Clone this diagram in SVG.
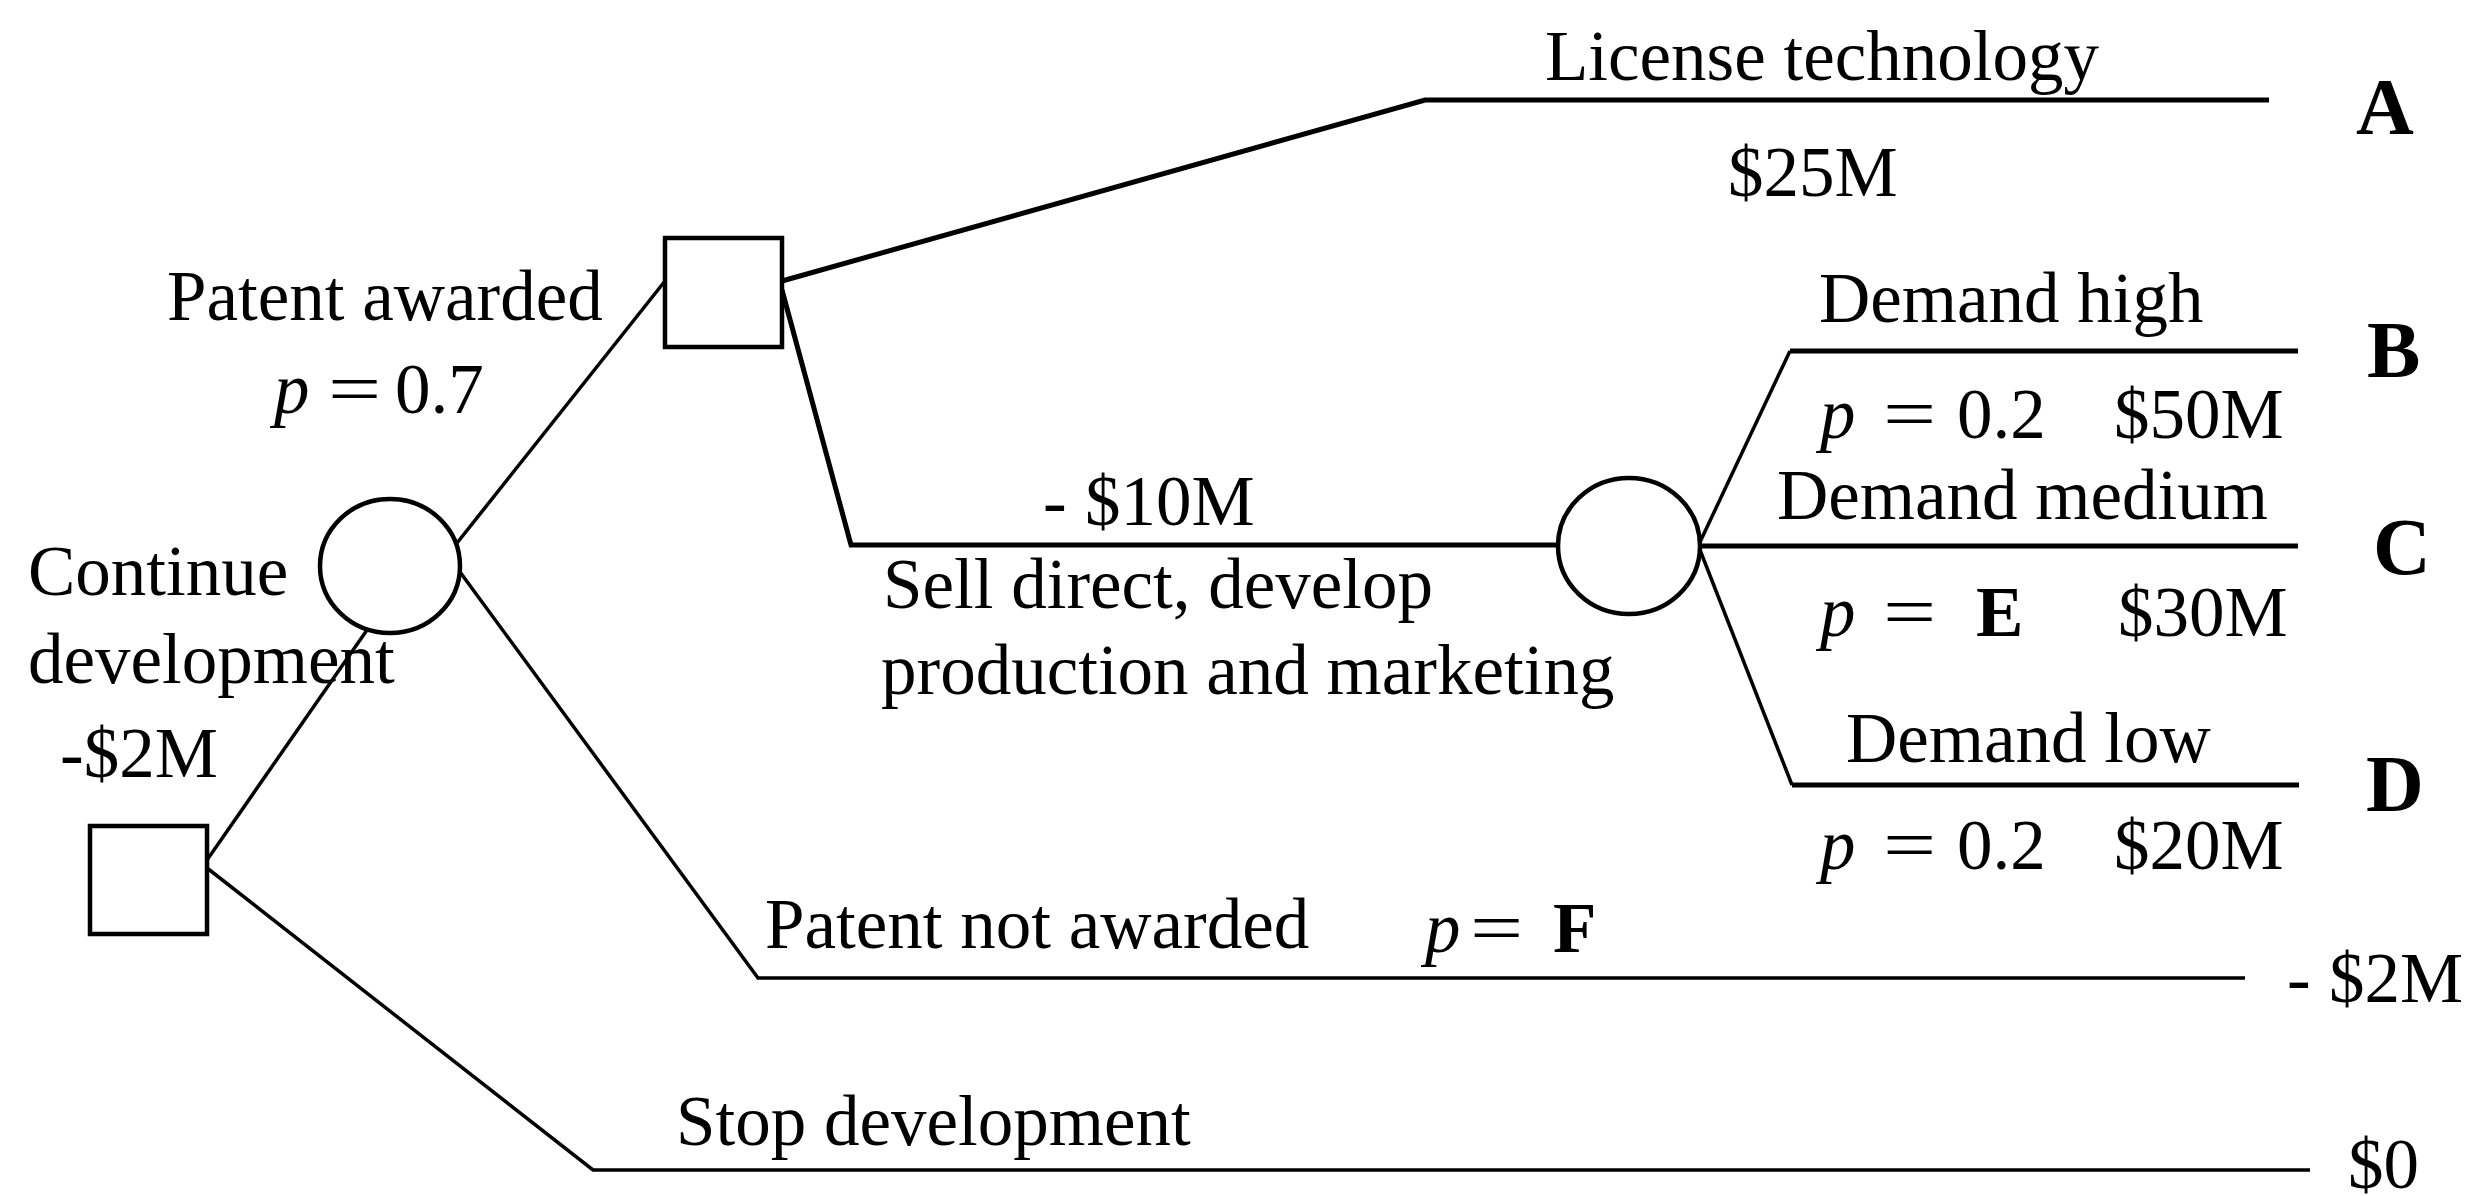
<svg xmlns="http://www.w3.org/2000/svg" width="2486" height="1196" viewBox="0 0 2486 1196">
<style>
  text { font-family: "Liberation Serif", "Times New Roman", serif; font-size: 71px; fill: #000; }
  .it { font-style: italic; }
  .b { font-weight: bold; }
  .leaf { font-weight: bold; font-size: 80px; }
  .node { fill: #fff; stroke: #000; stroke-width: 4.5; }
  .thick { fill: none; stroke: #000; stroke-width: 5; stroke-linejoin: miter; }
  .thin { fill: none; stroke: #000; stroke-width: 3.5; stroke-linejoin: miter; }
</style>
<rect width="2486" height="1196" fill="#fff"/>
<g id="connectors">
  <path class="thin" d="M207,860 L367,630"/>
  <path class="thin" d="M207,868 L593,1170 L2310,1170"/>
  <path class="thin" d="M457,543 L665,281"/>
  <path class="thin" d="M460,572 L758,978 L2245,978"/>
  <path class="thick" d="M782,281 L1425,100 L2269,100"/>
  <path class="thick" d="M782,290 L851,545 L1558,545"/>
  <path class="thin" d="M1700,542 L1790,351"/>
  <path class="thick" d="M1790,351 L2298,351"/>
  <path class="thick" d="M1700,546 L2298,546"/>
  <path class="thin" d="M1700,550 L1792,785"/>
  <path class="thick" d="M1792,785 L2299,785"/>
</g>
<g id="node-continue">
  <rect class="node" x="90" y="826" width="117" height="108"/>
  <text x="28" y="595">Continue</text>
  <text x="28" y="683">development</text>
  <text x="60" y="777">-$2M</text>
</g>
<g id="node-stop">
  <text x="676" y="1145">Stop development</text>
  <text x="2348" y="1188">$0</text>
</g>
<g id="node-patent">
  <ellipse class="node" cx="390" cy="566" rx="70" ry="67"/>
  <text x="167" y="320">Patent awarded</text>
  <text class="it" x="274" y="413">p</text>
  <text transform="translate(328,413) scale(1.33,1)">=</text>
  <text x="395" y="413">0.7</text>
</g>
<g id="node-not-awarded">
  <text x="765" y="948">Patent not awarded</text>
  <text class="it" x="1425" y="952">p</text>
  <text transform="translate(1470,952) scale(1.33,1)">=</text>
  <text class="b" x="1553" y="952">F</text>
  <text x="2287" y="1002">-</text>
  <text x="2329" y="1002">$2M</text>
</g>
<g id="node-decision2">
  <rect class="node" x="665" y="238" width="117" height="109"/>
</g>
<g id="node-license">
  <text x="1545" y="80">License technology</text>
  <text x="1728" y="196">$25M</text>
  <text class="leaf" x="2356" y="134">A</text>
</g>
<g id="node-sell">
  <text x="1043" y="525">-</text>
  <text x="1085" y="525">$10M</text>
  <text x="883" y="608">Sell direct, develop</text>
  <text x="881" y="694">production and marketing</text>
</g>
<g id="node-demand">
  <ellipse class="node" cx="1629" cy="546" rx="71" ry="68"/>
</g>
<g id="node-high">
  <text x="1819" y="322">Demand high</text>
  <text class="it" x="1820" y="438">p</text>
  <text transform="translate(1883,438) scale(1.33,1)">=</text>
  <text x="1957" y="438">0.2</text>
  <text x="2114" y="438">$50M</text>
  <text class="leaf" x="2367" y="377">B</text>
</g>
<g id="node-medium">
  <text x="1777" y="519">Demand medium</text>
  <text class="it" x="1820" y="636">p</text>
  <text transform="translate(1883,636) scale(1.33,1)">=</text>
  <text class="b" x="1976" y="636">E</text>
  <text x="2118" y="636">$30M</text>
  <text class="leaf" x="2373" y="574">C</text>
</g>
<g id="node-low">
  <text x="1846" y="762">Demand low</text>
  <text class="it" x="1820" y="869">p</text>
  <text transform="translate(1883,869) scale(1.33,1)">=</text>
  <text x="1957" y="869">0.2</text>
  <text x="2114" y="869">$20M</text>
  <text class="leaf" x="2366" y="811">D</text>
</g>
</svg>
